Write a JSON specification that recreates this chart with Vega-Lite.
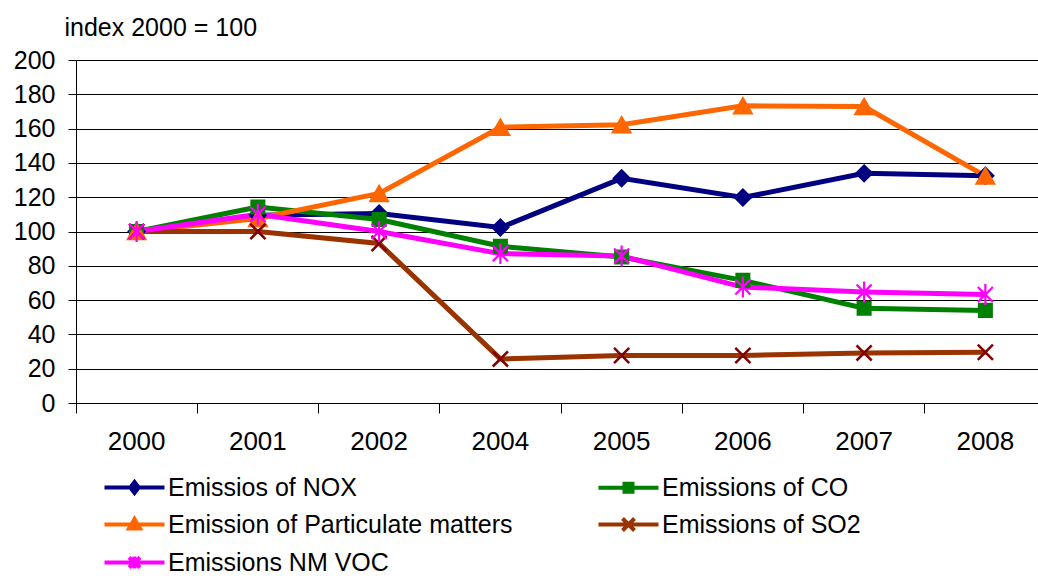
{
  "$schema": "https://vega.github.io/schema/vega-lite/v6.json",
  "autosize": {"type": "none"},
  "padding": {"left": 76, "top": 60, "right": 0, "bottom": 173},
  "width": 970,
  "height": 343,
  "config": {"view": {"stroke": null}, "font": "Liberation Sans"},
  "data": {"values": [
    {"year": "2000", "series": "Emissios of NOX", "value": 100},
    {"year": "2001", "series": "Emissios of NOX", "value": 109.5},
    {"year": "2002", "series": "Emissios of NOX", "value": 110.5},
    {"year": "2004", "series": "Emissios of NOX", "value": 102.3},
    {"year": "2005", "series": "Emissios of NOX", "value": 131},
    {"year": "2006", "series": "Emissios of NOX", "value": 119.8},
    {"year": "2007", "series": "Emissios of NOX", "value": 133.9},
    {"year": "2008", "series": "Emissios of NOX", "value": 132.5},
    {"year": "2000", "series": "Emissions of CO", "value": 100},
    {"year": "2001", "series": "Emissions of CO", "value": 114.3},
    {"year": "2002", "series": "Emissions of CO", "value": 107},
    {"year": "2004", "series": "Emissions of CO", "value": 91.4},
    {"year": "2005", "series": "Emissions of CO", "value": 85.1},
    {"year": "2006", "series": "Emissions of CO", "value": 71.5},
    {"year": "2007", "series": "Emissions of CO", "value": 55.3},
    {"year": "2008", "series": "Emissions of CO", "value": 54},
    {"year": "2000", "series": "Emission of Particulate matters", "value": 100},
    {"year": "2001", "series": "Emission of Particulate matters", "value": 107.6},
    {"year": "2002", "series": "Emission of Particulate matters", "value": 122.2},
    {"year": "2004", "series": "Emission of Particulate matters", "value": 160.8},
    {"year": "2005", "series": "Emission of Particulate matters", "value": 162.2},
    {"year": "2006", "series": "Emission of Particulate matters", "value": 173.3},
    {"year": "2007", "series": "Emission of Particulate matters", "value": 172.9},
    {"year": "2008", "series": "Emission of Particulate matters", "value": 132.3},
    {"year": "2000", "series": "Emissions of SO2", "value": 100},
    {"year": "2001", "series": "Emissions of SO2", "value": 100},
    {"year": "2002", "series": "Emissions of SO2", "value": 93},
    {"year": "2004", "series": "Emissions of SO2", "value": 25.7},
    {"year": "2005", "series": "Emissions of SO2", "value": 27.7},
    {"year": "2006", "series": "Emissions of SO2", "value": 27.7},
    {"year": "2007", "series": "Emissions of SO2", "value": 29.2},
    {"year": "2008", "series": "Emissions of SO2", "value": 29.6},
    {"year": "2000", "series": "Emissions NM VOC", "value": 100},
    {"year": "2001", "series": "Emissions NM VOC", "value": 110},
    {"year": "2002", "series": "Emissions NM VOC", "value": 100},
    {"year": "2004", "series": "Emissions NM VOC", "value": 87.1},
    {"year": "2005", "series": "Emissions NM VOC", "value": 85.7},
    {"year": "2006", "series": "Emissions NM VOC", "value": 67.6},
    {"year": "2007", "series": "Emissions NM VOC", "value": 64.7},
    {"year": "2008", "series": "Emissions NM VOC", "value": 63.3}
  ]},
  "encoding": {
    "y": {
      "field": "value", "type": "quantitative",
      "scale": {"domain": [0, 200], "nice": false, "zero": true},
      "axis": {
        "title": "index 2000 = 100", "titleAngle": 0, "titleX": -12, "titleY": -33,
        "titleAlign": "left", "titleBaseline": "middle", "titleFontSize": 25,
        "titleFontWeight": "normal", "titleColor": "black", "titleFont": "Liberation Sans",
        "values": [0, 20, 40, 60, 80, 100, 120, 140, 160, 180, 200],
        "labelFontSize": 25, "labelColor": "black", "labelFont": "Liberation Sans",
        "tickColor": "black", "tickSize": 8, "labelPadding": 13,
        "domainColor": "black", "gridColor": "#000000", "gridWidth": 1, "grid": true
      }
    }
  },
  "layer": [
    {
      "mark": {"type": "line", "strokeWidth": 5},
      "encoding": {
        "x": {
          "field": "year", "type": "ordinal",
          "scale": {"type": "band", "paddingInner": 0, "paddingOuter": 0},
          "axis": {"orient": "bottom", "title": null, "ticks": false, "tickSize": 0,
                   "labelFontSize": 26, "labelPadding": 25, "labelColor": "black",
                   "labelFont": "Liberation Sans", "domainColor": "black", "grid": false, "labelAngle": 0}
        },
        "color": {
          "field": "series", "type": "nominal",
          "scale": {
            "domain": ["Emissios of NOX", "Emissions of CO", "Emission of Particulate matters", "Emissions of SO2", "Emissions NM VOC"],
            "range": ["#000080", "#008000", "#FF6600", "#993300", "#FF00FF"]
          },
          "legend": {
            "orient": "none", "legendX": 26, "legendY": 415, "columns": 2, "direction": "horizontal", "title": null,
            "padding": 0, "labelFontSize": 25, "labelFont": "Liberation Sans", "labelColor": "black",
            "labelLimit": 0, "symbolSize": 400, "labelOffset": 41, "rowPadding": 9, "columnPadding": 77,
            "encode": {
              "symbols": {
                "update": {
                  "shape": {"signal": "datum.value === 'Emissios of NOX' ? 'M-1,0L5,0M2,-0.55L2.42,0L2,0.55L1.58,0Z' : datum.value === 'Emissions of CO' ? 'M-1,0L5,0M1.6,-0.4L2.4,-0.4L2.4,0.4L1.6,0.4Z' : datum.value === 'Emission of Particulate matters' ? 'M-1,0L5,0M2,-0.55L2.55,0.4L1.45,0.4Z' : datum.value === 'Emissions of SO2' ? 'M-1,0L5,0M1.4,-0.6L2.6,0.6M1.4,0.6L2.6,-0.6' : 'M-1,0L5,0M1.45,-0.5L2.55,0.5M1.45,0.5L2.55,-0.5M2,-0.6L2,0.6'"},
                  "fill": {"scale": "color", "field": "value"},
                  "stroke": {"scale": "color", "field": "value"},
                  "strokeWidth": {"value": 4},
                  "opacity": {"value": 1}
                }
              }
            }
          }
        }
      }
    },
    {
      "encoding": {
        "x": {
          "field": "year", "type": "ordinal",
          "axis": {"orient": "bottom", "title": null, "labels": false, "bandPosition": 0,
                   "tickSize": 10, "tickColor": "black", "domain": false, "grid": false}
        }
      },
      "layer": [
        {
          "transform": [{"filter": {"field": "series", "equal": "Emissios of NOX"}}],
          "mark": {"type": "point", "shape": "diamond", "size": 260, "filled": true, "color": "#000080", "stroke": "#000080", "strokeWidth": 2, "opacity": 1}
        },
        {
          "transform": [{"filter": {"field": "series", "equal": "Emissions of CO"}}],
          "mark": {"type": "point", "shape": "square", "size": 170, "filled": true, "color": "#008000", "stroke": "#008000", "strokeWidth": 2, "opacity": 1}
        },
        {
          "transform": [{"filter": {"field": "series", "equal": "Emission of Particulate matters"}}],
          "mark": {"type": "point", "shape": "triangle-up", "size": 320, "filled": true, "color": "#FF6600", "stroke": "#FF6600", "strokeWidth": 2, "opacity": 1}
        },
        {
          "transform": [{"filter": {"field": "series", "equal": "Emissions of SO2"}}],
          "mark": {"type": "point", "shape": "M-1,-1L1,1M-1,1L1,-1", "size": 230, "filled": false, "color": "#800000", "stroke": "#800000", "strokeWidth": 2.5, "opacity": 1}
        },
        {
          "transform": [{"filter": {"field": "series", "equal": "Emissions NM VOC"}}],
          "mark": {"type": "point", "shape": "M-0.9,-0.9L0.9,0.9M-0.9,0.9L0.9,-0.9M0,-1.25L0,1.25", "size": 280, "filled": false, "color": "#FF00FF", "stroke": "#FF00FF", "strokeWidth": 2.2, "opacity": 1}
        }
      ]
    }
  ],
  "resolve": {"axis": {"x": "independent"}}
}
